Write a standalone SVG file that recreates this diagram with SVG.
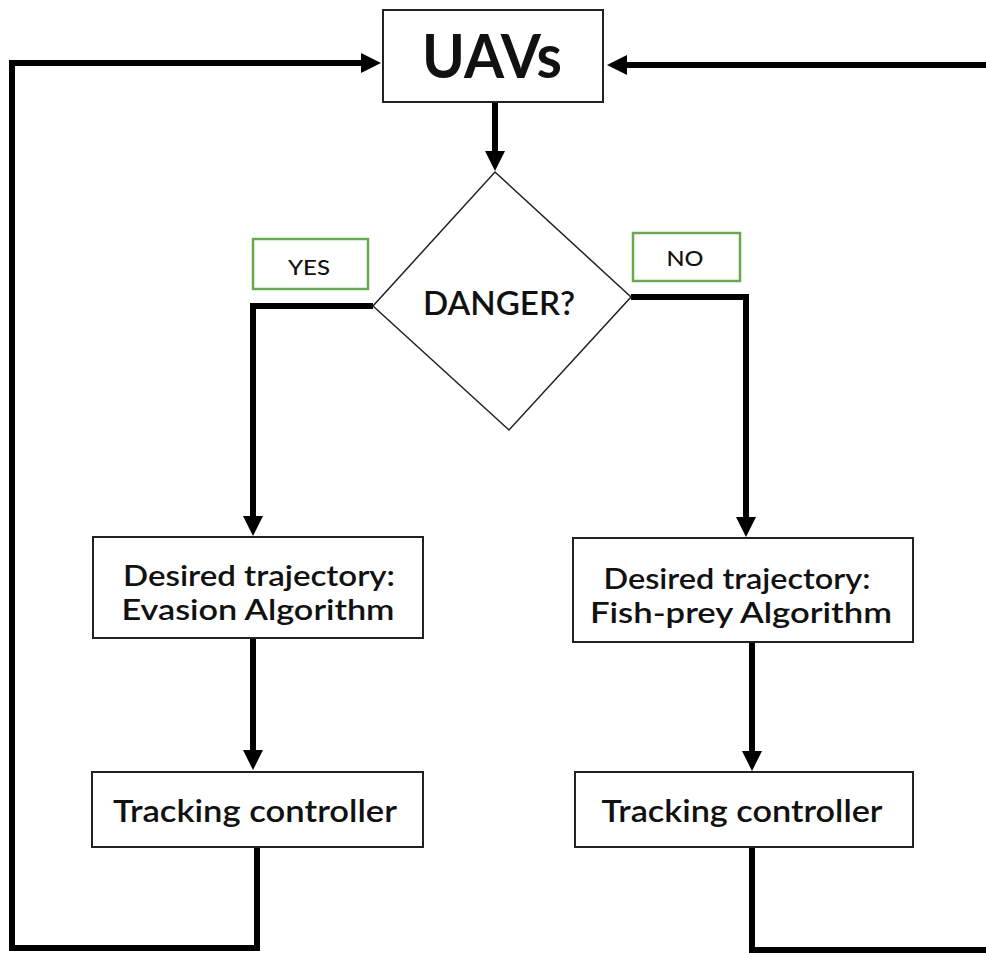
<svg xmlns="http://www.w3.org/2000/svg" width="986" height="953" viewBox="0 0 986 953">
<style>
.box{fill:#fff;stroke:#222;stroke-width:2}
.lbl{fill:#fff;stroke:#6aa84f;stroke-width:2.5}
.conn{fill:none;stroke:#000;stroke-width:6;stroke-linejoin:miter}
.t{font-family:Lato,"Open Sans","Liberation Sans",sans-serif;fill:#111;text-anchor:middle}
.m{font-size:31px;font-weight:600}
.m2{font-size:29px;font-weight:600}
</style>
<defs>
<marker id="ah" markerUnits="userSpaceOnUse" markerWidth="20" markerHeight="20" viewBox="0 0 20 20" refX="12" refY="10" orient="auto">
<path d="M0,0 L20,10 L0,20 z" fill="#000"/>
</marker>
</defs>
<rect width="986" height="953" fill="#fff"/>
<g id="connectors">
<path class="conn" d="M257,847 V948 H12 V63 H373" marker-end="url(#ah)"/>
<path class="conn" d="M986,65 H615" marker-end="url(#ah)"/>
<path class="conn" d="M752,847 V950 H986"/>
<path class="conn" d="M495,102 V163" marker-end="url(#ah)"/>
<path class="conn" d="M373,306 H253 V528" marker-end="url(#ah)"/>
<path class="conn" d="M631,297 H746 V529" marker-end="url(#ah)"/>
<path class="conn" d="M253,638 V762" marker-end="url(#ah)"/>
<path class="conn" d="M752,642 V763" marker-end="url(#ah)"/>
</g>
<g id="uavs">
<rect class="box" x="383" y="10" width="220" height="92"/>
<text class="t" x="492" y="78" font-size="61" font-weight="700" textLength="140" lengthAdjust="spacingAndGlyphs">UAVs</text>
</g>
<g id="danger">
<polygon points="495,172 631,297 509,430 373,306" fill="#fff" stroke="#222" stroke-width="1.5"/>
<text class="t" x="499" y="315" font-size="32" font-weight="600" textLength="152" lengthAdjust="spacingAndGlyphs">DANGER?</text>
</g>
<g id="yes">
<rect class="lbl" x="253" y="239" width="115" height="50"/>
<text class="t" x="309" y="275" font-size="21" font-weight="500" textLength="42" lengthAdjust="spacingAndGlyphs">YES</text>
</g>
<g id="no">
<rect class="lbl" x="633" y="233" width="107" height="48"/>
<text class="t" x="685" y="266" font-size="21" font-weight="500" textLength="37" lengthAdjust="spacingAndGlyphs">NO</text>
</g>
<g id="evasion">
<rect class="box" x="93" y="537" width="330" height="101"/>
<text class="t m2" x="259" y="586" textLength="272" lengthAdjust="spacingAndGlyphs">Desired trajectory:</text>
<text class="t m2" x="258" y="620" textLength="273" lengthAdjust="spacingAndGlyphs">Evasion Algorithm</text>
</g>
<g id="fishprey">
<rect class="box" x="573" y="538" width="340" height="104"/>
<text class="t m2" x="737" y="589" textLength="267" lengthAdjust="spacingAndGlyphs">Desired trajectory:</text>
<text class="t m2" x="741" y="623" textLength="302" lengthAdjust="spacingAndGlyphs">Fish-prey Algorithm</text>
</g>
<g id="track1">
<rect class="box" x="92" y="772" width="331" height="75"/>
<text class="t m" x="255" y="822" textLength="284" lengthAdjust="spacingAndGlyphs">Tracking controller</text>
</g>
<g id="track2">
<rect class="box" x="575" y="772" width="338" height="75"/>
<text class="t m" x="742" y="822" textLength="281" lengthAdjust="spacingAndGlyphs">Tracking controller</text>
</g>
</svg>
